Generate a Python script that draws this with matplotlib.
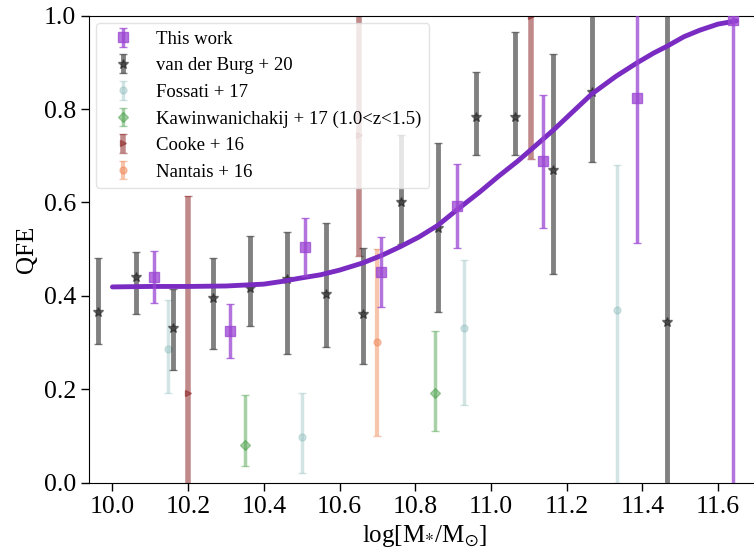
import numpy as np
import matplotlib.pyplot as plt

plt.rcParams['font.family'] = ['Liberation Serif', 'DejaVu Serif']
plt.rcParams['mathtext.fontset'] = 'stix'

# This work
tw_x = [10.11, 10.31, 10.51, 10.71, 10.91, 11.137, 11.386, 11.639]
tw_y = [0.44, 0.325, 0.505, 0.452, 0.592, 0.688, 0.823, 0.99]
tw_err = [0.055, 0.058, 0.062, 0.075, 0.09, 0.143, 0.31, 1.0]

# fitted curve
fit_x = [10.0, 10.1, 10.2, 10.3, 10.35, 10.4, 10.45, 10.49, 10.55, 10.6, 10.66,
         10.71, 10.76, 10.81, 10.86, 10.91, 10.97, 11.02, 11.07, 11.11, 11.165,
         11.22, 11.266, 11.33, 11.386, 11.43, 11.464, 11.51, 11.552, 11.6, 11.649]
fit_y = [0.419, 0.42, 0.42, 0.421, 0.423, 0.425, 0.431, 0.437, 0.445, 0.455, 0.47,
         0.486, 0.505, 0.526, 0.551, 0.584, 0.622, 0.656, 0.688, 0.716, 0.755,
         0.797, 0.832, 0.87, 0.899, 0.92, 0.934, 0.955, 0.969, 0.982, 0.989]

# van der Burg + 20
vdb_x = [9.962, 10.062, 10.161, 10.265, 10.364, 10.462, 10.563, 10.663, 10.762,
         10.861, 10.96, 11.064, 11.165, 11.266, 11.464]
vdb_y = [0.366, 0.44, 0.332, 0.396, 0.416, 0.435, 0.403, 0.362, 0.60,
         0.545, 0.784, 0.784, 0.669, 0.837, 0.343]
vdb_lo = [0.07, 0.08, 0.09, 0.11, 0.08, 0.16, 0.113, 0.109, 0.09,
          0.18, 0.082, 0.082, 0.222, 0.151, 0.7]
vdb_hi = [0.116, 0.054, 0.082, 0.084, 0.113, 0.101, 0.154, 0.14, 0.145,
          0.182, 0.096, 0.182, 0.248, 0.25, 0.7]

# Fossati + 17
fos_x = [10.147, 10.501, 10.929, 11.332]
fos_y = [0.287, 0.097, 0.33, 0.37]
fos_lo = [0.095, 0.076, 0.164, 0.37]
fos_hi = [0.105, 0.094, 0.147, 0.31]

# Kawinwanichakij + 17
kaw_x = [10.35, 10.852]
kaw_y = [0.08, 0.191]
kaw_lo = [0.044, 0.08]
kaw_hi = [0.107, 0.134]

# Cooke + 16
coo_x = [10.2, 10.652, 11.106]
coo_y = [0.192, 0.745, 1.0]
coo_err = [0.422, 0.26, 0.306]

# Nantais + 16
nan_x = [10.698]
nan_y = [0.30]
nan_err = [0.2]

fig = plt.figure(figsize=(7.54, 5.49), dpi=100)
ax = fig.add_axes([0.118, 0.1211, 0.89, 0.8503])

ax.errorbar(tw_x, tw_y, yerr=tw_err, fmt='s', color='#9b45d3', alpha=0.75,
            ms=7, lw=2.5, capsize=3, label='This work', zorder=5)
ax.errorbar(vdb_x, vdb_y, yerr=[vdb_lo, vdb_hi], fmt='*', color='#1a1a1a', alpha=0.55,
            ms=7, lw=3.5, capsize=3, label='van der Burg + 20', zorder=3)
ax.errorbar(fos_x, fos_y, yerr=[fos_lo, fos_hi], fmt='o', color='#8fbcbc', alpha=0.4,
            ms=5, lw=2.5, capsize=3, label='Fossati + 17', zorder=2)
ax.errorbar(kaw_x, kaw_y, yerr=[kaw_lo, kaw_hi], fmt='D', color='#3f9a3f', alpha=0.45,
            ms=5, lw=2.5, capsize=3, label='Kawinwanichakij + 17 (1.0<z<1.5)', zorder=2)
ax.errorbar(coo_x, coo_y, yerr=coo_err, fmt='>', color='#8f2a2a', alpha=0.55,
            ms=5, lw=4, capsize=3, label='Cooke + 16', zorder=2)
ax.errorbar(nan_x, nan_y, yerr=nan_err, fmt='o', color='#f08a5a', alpha=0.5,
            ms=5, lw=3, capsize=3, label='Nantais + 16', zorder=2)

ax.plot(fit_x, fit_y, color='#7a2cc2', lw=3.5, zorder=4,
        solid_capstyle='round', solid_joinstyle='round')

ax.set_xlim(9.938, 11.711)
ax.set_ylim(0, 1)
ax.set_xticks(np.arange(10.0, 11.61, 0.2))
ax.set_yticks(np.arange(0, 1.01, 0.2))
ax.tick_params(labelsize=18.5, length=6, width=1)
ax.set_xlabel(r'log[M$_{*}$/M$_{\odot}$]', fontsize=18)
ax.set_ylabel('QFE', fontsize=18)

leg = ax.legend(loc='upper left', fontsize=13.5, frameon=True, framealpha=0.8,
                edgecolor='#dddddd', borderaxespad=0.4)

fig.savefig('out.png', dpi=100)
